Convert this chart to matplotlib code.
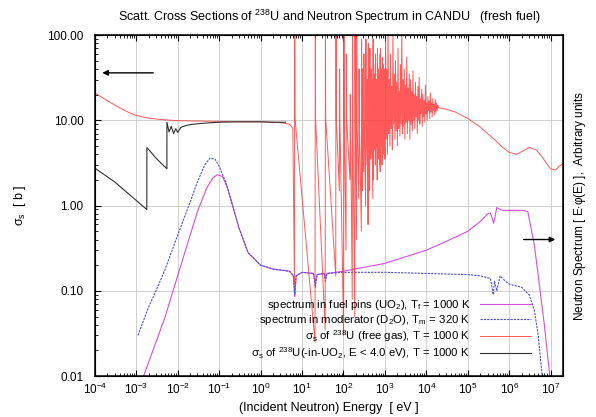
import numpy as np
import matplotlib
matplotlib.use("Agg")
import matplotlib.pyplot as plt
from matplotlib.ticker import FixedLocator, LogLocator, NullFormatter

plt.rcParams['font.family'] = ['Liberation Sans', 'DejaVu Sans']
plt.rcParams['mathtext.default'] = 'regular'
plt.rcParams['font.size'] = 8.5

# sigma_s of U-238, free gas, low energy smooth part
red_low_E = [1e-4, 2e-4, 4e-4, 7e-4, 1e-3, 2e-3, 4e-3, 1e-2, 3e-2, 0.1, 0.3, 1.0, 3.0, 5.0, 6.0]
red_low_s = [21.0, 17.0, 14.0, 12.2, 11.4, 10.6, 10.2, 9.9, 9.8, 9.7, 9.6, 9.6, 9.4, 9.0, 8.0]

# resolved resonances: position, dip below it, peak
res_E = [6.67, 20.9, 36.7, 66.0, 80.7, 102.5, 116.9, 145.7, 165.3, 189.7, 208.5, 237.4, 273.7,
         291.0, 311.0, 347.8, 376.9, 397.6, 410.2, 434.0, 463.2, 478.4, 518.4, 535.4, 580.2,
         594.9, 619.9, 661.1, 693.1, 708.4, 721.7, 765.0, 780.8, 821.6, 850.5, 866.2, 905.0,
         937.0, 958.0]
res_dip = [0.12, 0.025, 0.035, 0.15, 1.5, 0.03, 0.3, 2.0, 0.08, 0.05, 0.4, 1.2, 0.5,
           1.5, 2.5, 1.0, 3.0, 0.6, 2.0, 1.5, 3.5, 4.0, 1.2, 2.0, 4.5,
           3.0, 5.0, 2.0, 3.5, 4.0, 6.0, 3.0, 2.5, 5.0, 6.0, 3.0, 4.0,
           5.5, 4.0]
res_peak = [200, 300, 400, 300, 40, 300, 60, 20, 120, 200, 150, 40, 90,
            40, 60, 90, 30, 80, 35, 70, 40, 30, 90, 45, 35,
            60, 30, 70, 40, 35, 25, 60, 70, 40, 30, 55, 45,
            30, 40]

# unresolved / dense resonance region
dense_E = [1000, 1040, 1075, 1110, 1150, 1190, 1230, 1270, 1320, 1360,
           1410, 1460, 1510, 1560, 1620, 1680, 1740, 1800, 1860, 1930,
           2000, 2070, 2140, 2220, 2300, 2380, 2460, 2550, 2640, 2730,
           2830, 2930, 3030, 3140, 3250, 3360, 3480, 3600, 3730, 3860,
           4000, 4140, 4280, 4430, 4590, 4750, 4920, 5090, 5270, 5450,
           5640, 5840, 6050, 6260, 6480, 6710, 6940, 7190, 7440, 7700,
           7970, 8250, 8540, 8840, 9150, 9470, 9800, 10150, 10500, 10870,
           11250, 11650, 12060, 12480, 12920, 13370, 13840, 14330, 14830, 15350,
           15890, 16450, 17030, 17620, 18240, 18880, 19540, 20000]
dense_s = [3.5, 90, 6, 40, 4, 150, 7, 30, 5, 60,
           8, 25, 4.5, 110, 9, 35, 6, 50, 7.5, 28,
           5, 70, 8, 22, 6.5, 45, 9, 120, 7, 30,
           8.5, 40, 6, 26, 9.5, 55, 7, 24, 10, 35,
           6, 30, 9, 22, 7.5, 38, 10, 20, 8, 28,
           11, 19, 7, 25, 10, 32, 9, 18, 12, 23,
           8.5, 20, 11, 17, 9.5, 26, 12, 16, 10, 19,
           13, 17, 10.5, 21, 12.5, 16, 11, 18, 13, 15.5,
           11.5, 17.5, 12.5, 16, 13, 15, 14, 14]

# fast region, smooth
hi_E = [2e4, 3e4, 5e4, 1e5, 2e5, 4e5, 7e5, 1e6, 1.5e6, 2.2e6, 3e6, 4.5e6, 6e6, 8e6, 1e7, 1.3e7, 1.6e7, 2e7]
hi_s = [14, 13.5, 12.5, 10.5, 8.3, 6.2, 4.8, 4.2, 4.0, 4.4, 4.8, 4.5, 3.8, 3.1, 2.7, 2.6, 2.9, 3.1]

# sigma_s of U-238 in UO2 (E < 4 eV)
uo2_E = [1e-4, 3e-4, 1e-3, 1.8e-3, 1.81e-3, 3e-3, 5.5e-3, 5.51e-3, 6.2e-3, 7e-3, 8e-3, 9e-3,
         1.0e-2, 1.2e-2, 1.5e-2, 2e-2, 3e-2, 5e-2, 0.1, 0.3, 1.0, 2.0, 4.0]
uo2_s = [2.75, 1.9, 1.15, 0.9, 4.8, 3.6, 2.7, 9.5, 7.3, 8.5, 7.0, 8.0, 7.2, 8.3, 8.6, 8.9, 9.1,
         9.3, 9.5, 9.6, 9.6, 9.5, 9.5]

# spectrum in moderator
mod_E = [1.1e-3, 2e-3, 3e-3, 5e-3, 1e-2, 2e-2, 3e-2, 4.5e-2, 6e-2, 8e-2, 0.1, 0.15, 0.2, 0.3,
         0.5, 1, 2, 5, 6.2, 6.67, 7.2, 10, 19, 20.9, 23, 34, 36.7, 40, 100, 1e3, 1e4, 1e5,
         2e5, 3.5e5, 4.1e5, 4.4e5, 5e5, 6e5, 8e5, 1e6, 2e6, 3e6, 4e6, 5e6, 6e6, 7e6]
mod_s = [0.03, 0.065, 0.1, 0.18, 0.45, 1.1, 1.9, 3.0, 3.6, 3.5, 2.9, 1.8, 1.1, 0.55,
         0.28, 0.2, 0.18, 0.17, 0.15, 0.09, 0.15, 0.165, 0.16, 0.11, 0.155, 0.16, 0.13, 0.16,
         0.165, 0.165, 0.16, 0.155, 0.15, 0.14, 0.09, 0.13, 0.1, 0.15, 0.13, 0.12, 0.11,
         0.09, 0.06, 0.03, 0.012, 0.005]

# spectrum in fuel pins
fuel_E = [1e-3, 1.5e-3, 3e-3, 5e-3, 1e-2, 2e-2, 3e-2, 5e-2, 7e-2, 9e-2, 0.12, 0.16, 0.2, 0.3,
          0.5, 1, 2, 5, 6.2, 6.67, 7.2, 10, 19, 20.9, 23, 34, 36.7, 40, 100, 1e3, 1e4, 3e4,
          1e5, 2e5, 3e5, 3.5e5, 4.2e5, 5e5, 6e5, 7e5, 1e6, 2e6, 2.8e6, 4e6, 5e6, 7e6, 1e7]
fuel_s = [0.006, 0.01, 0.025, 0.05, 0.15, 0.45, 0.85, 1.6, 2.1, 2.3, 2.2, 1.6, 1.1, 0.55,
          0.28, 0.2, 0.18, 0.17, 0.15, 0.085, 0.15, 0.165, 0.16, 0.12, 0.155, 0.16, 0.14, 0.16,
          0.17, 0.21, 0.3, 0.38, 0.5, 0.65, 0.8, 0.82, 0.62, 0.95, 0.9, 0.88, 0.88, 0.88,
          0.85, 0.35, 0.15, 0.04, 0.008]

# build the free-gas cross section curve from the read pieces
red_E = list(red_low_E)
red_s = list(red_low_s)
for e, d, p in zip(res_E, res_dip, res_peak):
    red_E += [e * 0.985, e, e * 1.015]
    red_s += [d, p, 10.5]
red_E += dense_E + hi_E
red_s += dense_s + hi_s

fig = plt.figure(figsize=(5.96, 4.17), dpi=100)
ax = fig.add_axes([0.159, 0.098, 0.786, 0.818])

ax.plot(fuel_E, fuel_s, color='#d050e0', lw=0.8,
        label=r'spectrum in fuel pins (UO$_2$), T$_f$ = 1000 K')
ax.plot(mod_E, mod_s, color='#5050d8', lw=0.8, ls=(0, (2, 1)),
        label=r'spectrum in moderator (D$_2$O), T$_m$ = 320 K')
ax.plot(red_E, red_s, color='#ff3030', lw=0.7, alpha=0.8,
        label=r'$\sigma_s$ of $^{238}$U (free gas), T = 1000 K')
ax.plot(uo2_E, uo2_s, color='#303030', lw=0.8,
        label=r'$\sigma_s$ of $^{238}$U(-in-UO$_2$, E < 4.0 eV), T = 1000 K')

ax.set_xscale('log')
ax.set_yscale('log')
ax.set_xlim(1e-4, 2e7)
ax.set_ylim(0.01, 100)

ax.xaxis.set_major_locator(LogLocator(base=10, numticks=20))
ax.xaxis.set_minor_locator(LogLocator(base=10, subs=np.arange(2, 10), numticks=20))
ax.xaxis.set_minor_formatter(NullFormatter())
yt = [0.01, 0.1, 1, 10, 100]
ax.yaxis.set_major_locator(FixedLocator(yt))
ax.set_yticklabels(['0.01', '0.10', '1.00', '10.00', '100.00'])
ax.yaxis.set_minor_locator(LogLocator(base=10, subs=np.arange(2, 10), numticks=20))
ax.yaxis.set_minor_formatter(NullFormatter())

ax.tick_params(which='both', direction='in', top=True, right=True, colors='black')
ax.tick_params(which='major', length=4, width=0.8)
ax.tick_params(axis='y', which='major', pad=8)
ax.tick_params(axis='x', which='major', pad=4)
ax.tick_params(which='minor', length=2, width=0.6)
ax.grid(True, which='major', color='#c8c8c8', lw=0.6)
for s in ax.spines.values():
    s.set_linewidth(1.1)

ax.set_title(r'Scatt. Cross Sections of $^{238}$U and Neutron Spectrum in CANDU   (fresh fuel)',
             fontsize=9, pad=10)
ax.set_xlabel('(Incident Neutron) Energy  [ eV ]', fontsize=9)
ax.set_ylabel(r'$\sigma_s$  [ b ]', labelpad=14, fontsize=9)
ax2 = ax.twinx()
ax2.set_yscale('log')
ax2.set_ylim(0.01, 100)
ax2.set_yticks([])
ax2.set_yticks([], minor=True)
ax2.set_ylabel(r'Neutron Spectrum [ E$\cdot\varphi$(E) ],  Arbitrary units', labelpad=6,
               fontsize=8.5)

ax.annotate('', xy=(1.3e-4, 36), xytext=(3e-3, 36),
            arrowprops=dict(arrowstyle='-|>', color='black', lw=1.0, mutation_scale=8))
ax.annotate('', xy=(1.5e7, 0.4), xytext=(1.9e6, 0.4),
            arrowprops=dict(arrowstyle='-|>', color='black', lw=1.0, mutation_scale=8))

ax.legend(loc='lower right', bbox_to_anchor=(0.94, 0.03), frameon=False, markerfirst=False,
          handlelength=4.4, handletextpad=0.9, labelspacing=0.1, borderaxespad=0.0,
          fontsize=8.2)

fig.savefig('out.png', dpi=100)
